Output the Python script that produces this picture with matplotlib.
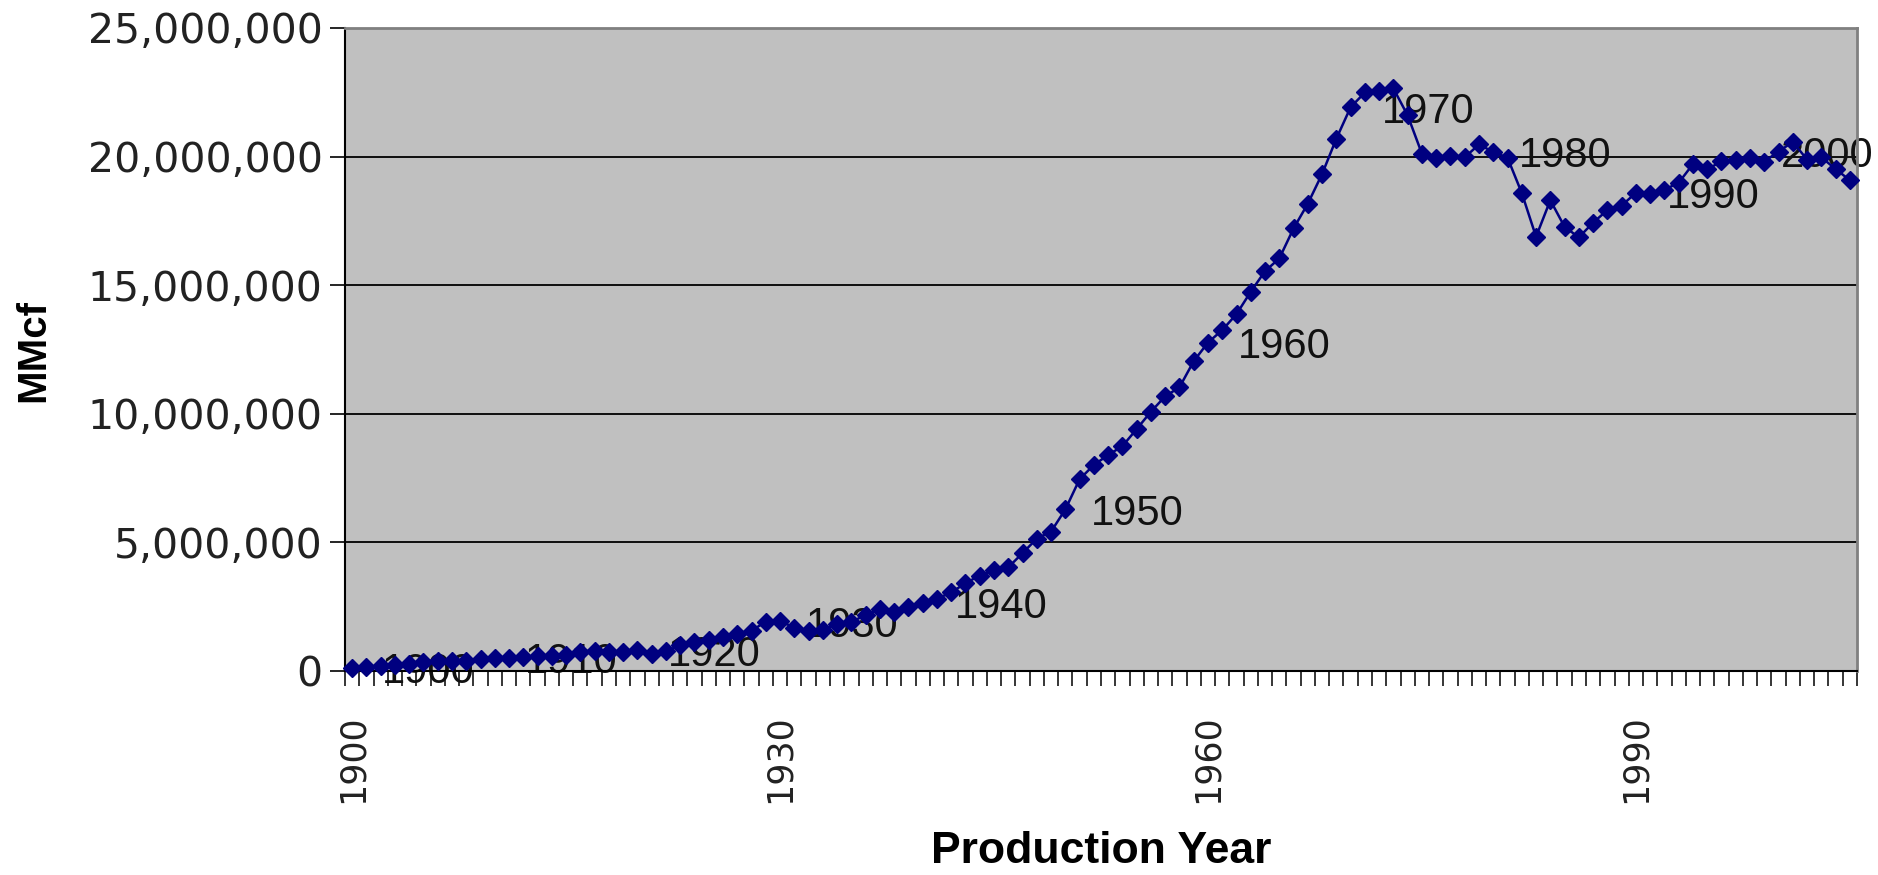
import matplotlib
matplotlib.use("Agg")
import matplotlib.pyplot as plt
from matplotlib import font_manager
from matplotlib.ticker import FuncFormatter
import numpy as np

# ---------------- data ----------------
years = list(range(1900, 2006))
production = [  # MMcf
    128000, 170000, 200000, 240000, 270000, 356000, 388000, 406000, 402000, 481000,
    509000, 513000, 563000, 582000, 592000, 629000, 753000, 795000, 721000, 746000,
    798000, 662000, 763000, 1007000, 1142000, 1188000, 1313000, 1445000, 1568000, 1917000,
    1943000, 1686000, 1555000, 1597000, 1816000, 1917000, 2168000, 2408000, 2296000, 2477000,
    2660000, 2813000, 3053000, 3415000, 3711000, 3919000, 4031000, 4582000, 5148000, 5420000,
    6282000, 7457000, 8013000, 8397000, 8743000, 9405000, 10082000, 10680000, 11030000, 12046000,
    12771000, 13254000, 13877000, 14747000, 15547000, 16040000, 17207000, 18171000, 19322000, 20698000,
    21921000, 22493000, 22532000, 22648000, 21601000, 20109000, 19952000, 20025000, 19974000, 20471000,
    20180000, 19956000, 18582000, 16884000, 18304000, 17270000, 16859000, 17433000, 17918000, 18095000,
    18594000, 18532000, 18712000, 18982000, 19710000, 19506000, 19812000, 19866000, 19961000, 19805000,
    20198000, 20570000, 19885000, 19974000, 19517000, 19080000,
]
label_years = [1900, 1910, 1920, 1930, 1940, 1950, 1960, 1970, 1980, 1990, 2000]
tick_years = [1900, 1930, 1960, 1990]
y_ticks = [0, 5000000, 10000000, 15000000, 20000000, 25000000]

# label horizontal offsets (pixels) from their data point
label_dx = [30, 30, 30, 26, 32, 26, 30, 31, 26, 31, 2]

# ---------------- fonts ----------------
available = {f.name for f in font_manager.fontManager.ttflist}
if "Liberation Sans Narrow" in available:
    lab_family, lab_size = "Liberation Sans Narrow", 33
else:
    lab_family, lab_size = "Liberation Sans", 30

W, H = 1878, 875
fig = plt.figure(figsize=(W / 100, H / 100), dpi=100)
fig.patch.set_facecolor("white")

left, right, top, bottom = 345, 1857, 28, 671
ax = fig.add_axes([left / W, 1 - bottom / H, (right - left) / W, (bottom - top) / H])
ax.set_facecolor("#C0C0C0")

navy = "#000080"
ax.plot(years, production, color=navy, lw=1.8, marker="D", ms=9.5,
        mfc=navy, mec=navy, zorder=3, clip_on=False)

for yr, dx in zip(label_years, label_dx):
    v = production[years.index(yr)]
    ax.annotate(str(yr), xy=(yr, v), xytext=(dx, 0), textcoords="offset pixels",
                ha="left", va="center_baseline", fontsize=lab_size,
                family=lab_family, color="#111111", zorder=2.5,
                annotation_clip=False)

ax.set_xlim(1899.5, 2005.5)
ax.set_ylim(0, 25000000)

# y axis
ax.set_yticks(y_ticks)
ax.yaxis.set_major_formatter(FuncFormatter(lambda v, p: f"{v:,.0f}"))
ax.tick_params(axis="y", direction="out", length=11, width=1.2, pad=5,
               labelsize=29.5, colors="black", labelcolor="#222222")
for lab in ax.get_yticklabels():
    lab.set_family("DejaVu Sans")
ax.yaxis.grid(True, color="black", lw=1.3)
ax.set_axisbelow(True)

# x axis
ax.set_xticks(tick_years)
ax.set_xticklabels([str(t) for t in tick_years], rotation=90, family="DejaVu Sans",
                   fontsize=25, color="#222222")
ax.set_xticks(np.arange(1899.5, 2006, 1.0), minor=True)
ax.tick_params(axis="x", which="major", length=0, pad=31)
ax.tick_params(axis="x", which="minor", direction="out", length=11, width=1.1, color="black")

for s in ["left", "bottom"]:
    ax.spines[s].set_color("black")
    ax.spines[s].set_linewidth(1.5)
for s in ["top", "right"]:
    ax.spines[s].set_color("#808080")
    ax.spines[s].set_linewidth(2)

fig.text(1101 / W, 1 - 831 / H, "Production Year", ha="center", va="top",
         fontsize=32, fontweight="bold", family="Liberation Sans")
fig.text(33 / W, 1 - 350 / H, "MMcf", ha="center", va="center", rotation=90,
         fontsize=29, fontweight="bold", family="Liberation Sans")

fig.savefig("out.png", dpi=100, facecolor="white")
